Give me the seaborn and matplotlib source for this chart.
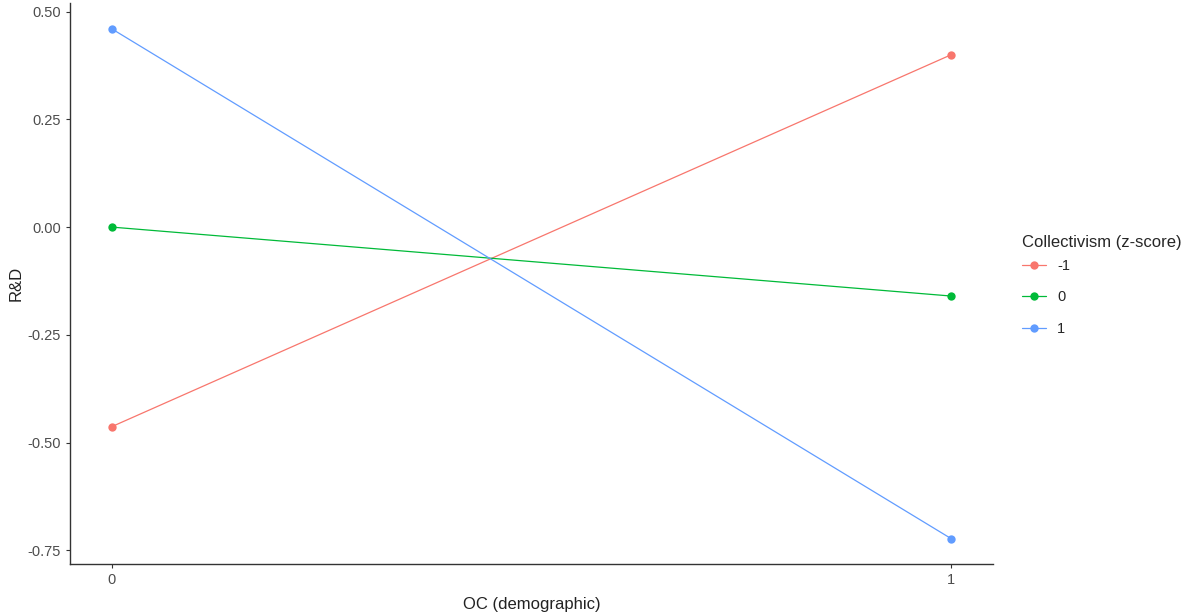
import pandas as pd
import numpy as np
import matplotlib.pyplot as plt
import seaborn as sns
from matplotlib.lines import Line2D

# values
oc_levels = [0, 1]
collectivism = ['-1', '0', '1']
rd_low = [-0.463, 0.400]
rd_mid = [0.000, -0.160]
rd_high = [0.460, -0.723]

colors = {'-1': '#F8766D', '0': '#00BA38', '1': '#619CFF'}

data = pd.DataFrame({
    'OC': oc_levels * 3,
    'RD': rd_low + rd_mid + rd_high,
    'Collectivism': [c for c in collectivism for _ in oc_levels],
})

sns.set_style('ticks')
plt.rcParams['font.family'] = ['Liberation Sans', 'DejaVu Sans']

fig = plt.figure(figsize=(11.9, 6.14), dpi=100)
ax = fig.add_axes([0.0588, 0.0814, 0.7757, 0.9136])

sns.lineplot(data=data, x='OC', y='RD', hue='Collectivism', palette=colors,
             marker='o', markersize=6, markeredgewidth=0, linewidth=0.9,
             ax=ax, legend=False)

ax.set_xlim(-0.05, 1.05)
ax.set_ylim(-0.782, 0.52)
ax.set_xticks(oc_levels)
ax.set_xticklabels(['0', '1'])
ax.set_yticks([0.5, 0.25, 0.0, -0.25, -0.5, -0.75])
ax.set_yticklabels(['0.50', '0.25', '0.00', '-0.25', '-0.50', '-0.75'])
ax.tick_params(colors='#333333', labelcolor='#4D4D4D', labelsize=10.5,
               length=3, width=0.8)
for side in ['top', 'right']:
    ax.spines[side].set_visible(False)
for side in ['left', 'bottom']:
    ax.spines[side].set_color('#333333')
    ax.spines[side].set_linewidth(1.0)

ax.set_xlabel('OC (demographic)', fontsize=12, color='#222222', labelpad=7)
ax.set_ylabel('R&D', fontsize=12, color='#222222', labelpad=3)

handles = [Line2D([0], [0], color=colors[c], marker='o', markersize=6,
                  markeredgewidth=0, linewidth=0.9) for c in collectivism]
leg = fig.legend(handles, collectivism, title='Collectivism (z-score)',
                 loc='center left', bbox_to_anchor=(0.848, 0.535), frameon=False,
                 fontsize=10.5, title_fontsize=12, handlelength=1.6,
                 labelspacing=1.2, alignment='left')
leg._legend_box.sep = 6

fig.savefig('out.png', dpi=100)
